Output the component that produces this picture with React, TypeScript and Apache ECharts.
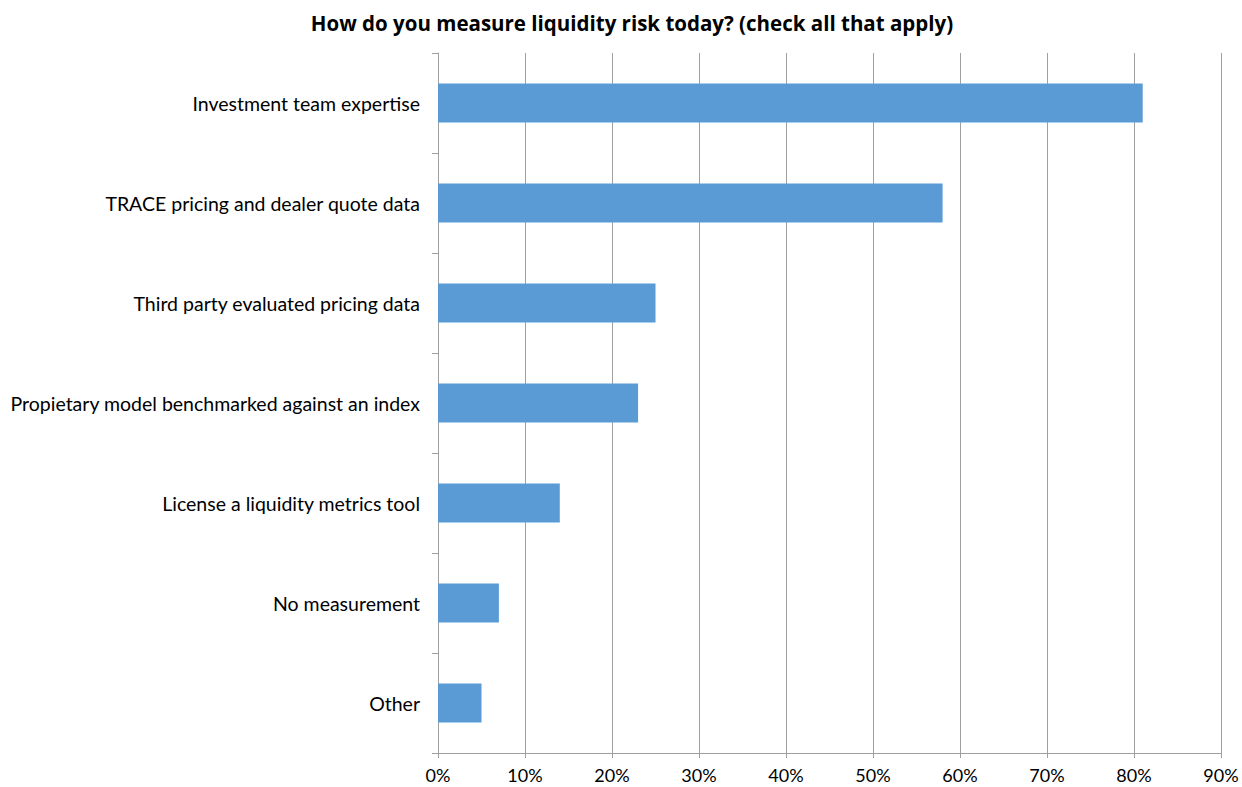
import React, { useEffect, useRef } from "react";
import * as echarts from "echarts";

const categories = [
  "Investment team expertise",
  "TRACE pricing and dealer quote data",
  "Third party evaluated pricing data",
  "Propietary model benchmarked against an index",
  "License a liquidity metrics tool",
  "No measurement",
  "Other",
];
const values = [81, 58, 25, 23, 14, 7, 5];
const titleText = "How do you measure liquidity risk today? (check all that apply)";

export default function App() {
  const ref = useRef<HTMLDivElement>(null);
  useEffect(() => {
    document.body.style.margin = "0";
    const chart = echarts.init(ref.current!, null, { renderer: "svg" });
    const font = "Lato, 'Open Sans', sans-serif";
    chart.setOption({
      animation: false,
      backgroundColor: "#ffffff",
      title: {
        text: titleText,
        left: 627,
        textAlign: "center",
        top: 7,
        textStyle: { fontFamily: "'Open Sans', sans-serif", fontSize: 20.5, fontWeight: "bold", color: "#000" },
      },
      grid: { left: 438, right: 21, top: 53, bottom: 34, containLabel: false },
      xAxis: {
        type: "value",
        min: 0,
        max: 90,
        interval: 10,
        axisLabel: {
          formatter: "{value}%",
          fontFamily: font,
          fontSize: 18,
          color: "#000",
          margin: 13,
        },
        axisLine: { show: true, lineStyle: { color: "#a0a0a0", width: 1 } },
        axisTick: { show: true, length: 5, lineStyle: { color: "#a0a0a0" } },
        splitLine: { show: true, lineStyle: { color: "#a0a0a0", width: 1 } },
      },
      yAxis: {
        type: "category",
        inverse: true,
        data: categories,
        axisLabel: { fontFamily: font, fontSize: 19.5, color: "#000", margin: 18 },
        axisLine: { show: true, lineStyle: { color: "#a0a0a0", width: 1 } },
        axisTick: { show: true, length: 6, alignWithLabel: false, lineStyle: { color: "#a0a0a0" } },
        splitLine: { show: false },
      },
      series: [
        {
          type: "bar",
          data: values,
          barWidth: 39,
          itemStyle: { color: "#5b9bd5" },
        },
      ],
    });
    return () => chart.dispose();
  }, []);
  return <div ref={ref} style={{ width: 1242, height: 787 }} />;
}
